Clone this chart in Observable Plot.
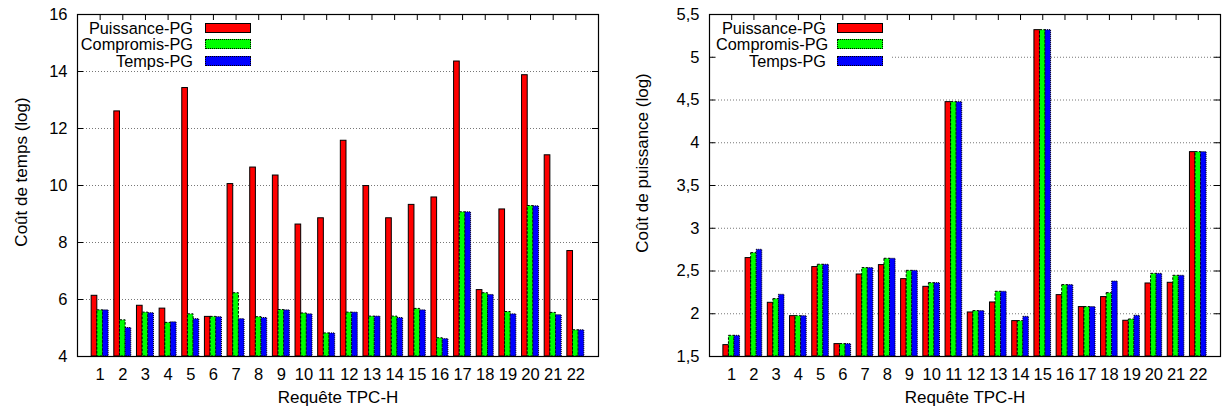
<!DOCTYPE html>
<html>
<head>
<meta charset="utf-8">
<script src="https://cdn.jsdelivr.net/npm/d3@7"></script>
<script src="https://cdn.jsdelivr.net/npm/@observablehq/plot@0.6"></script>
<style>
  html, body { margin: 0; padding: 0; background: #fff; }
  body { width: 1223px; height: 411px; overflow: hidden; font-family: "Liberation Sans", Arial, sans-serif; }
  #wrap { display: flex; flex-direction: row; }
  .panel { position: relative; }
  .legend { position: absolute; background: #fff; }
  .row { display: flex; align-items: center; height: 16.3px; }
  .row .lbl { text-align: right; font-size: 16.3px; line-height: 16px; color: #000; white-space: nowrap; }
  .row .sw { width: 44px; height: 8px; box-sizing: content-box; }
</style>
</head>
<body>
<div id="wrap"></div>
<script>
// ---------- data ----------
const queries = [1,2,3,4,5,6,7,8,9,10,11,12,13,14,15,16,17,18,19,20,21,22];
const seriesNames = ["Puissance-PG", "Compromis-PG", "Temps-PG"];

// Coût de temps (log)
const tempsPuissance = [6.13,12.6,5.78,5.68,13.42,5.39,10.05,10.63,10.35,8.63,8.85,11.57,9.98,8.85,9.32,9.58,14.35,6.33,9.16,13.87,11.06,7.70];
const tempsCompromis = [5.62,5.27,5.54,5.18,5.48,5.39,6.22,5.38,5.63,5.51,4.81,5.54,5.40,5.40,5.67,4.64,9.06,6.22,5.56,9.28,5.53,4.92];
const tempsTemps     = [5.62,5.00,5.52,5.20,5.31,5.38,5.31,5.35,5.62,5.48,4.81,5.54,5.40,5.35,5.62,4.61,9.06,6.16,5.48,9.27,5.45,4.92];

// Coût de puissance (log)
const puisPuissance = [1.633,2.651,2.128,1.972,2.546,1.645,2.459,2.569,2.405,2.315,4.475,2.015,2.132,1.914,5.317,2.218,2.078,2.195,1.918,2.354,2.362,3.890];
const puisCompromis = [1.742,2.709,2.171,1.972,2.573,1.645,2.534,2.643,2.502,2.358,4.475,2.031,2.257,1.914,5.317,2.335,2.078,2.241,1.933,2.467,2.444,3.890];
const puisTemps     = [1.742,2.748,2.222,1.972,2.573,1.645,2.534,2.643,2.502,2.358,4.475,2.031,2.257,1.964,5.317,2.335,2.078,2.377,1.976,2.467,2.444,3.890];

const yTicksTemps = [4,6,8,10,12,14,16];
const yTicksPuis = [1.5,2,2.5,3,3.5,4,4.5,5,5.5];

// ---------- styles ----------
const fills = ["#ff0000", "#00ff00", "#0000ff"];
const dashes = [null, "2.5,1.5", "1,1"];
const FONT = "Liberation Sans, Arial, sans-serif";
const TICK_FS = 16.5, LABEL_FS = 17;

function table(arrs) {
  const rows = [];
  arrs.forEach((arr, s) => {
    arr.forEach((v, i) => rows.push({q: queries[i], s, v}));
  });
  return rows;
}

function chart({width, marginLeft, marginRight, yTicks, fmt, rows, ylabel, ylabelDx, ylabelDy}) {
  const height = 411, marginTop = 14, marginBottom = 55;
  const fw = width - marginLeft - marginRight;
  const fh = height - marginTop - marginBottom;
  const y0 = yTicks[0], y1 = yTicks[yTicks.length - 1];
  const bw = 0.25;
  const barMarks = [0,1,2].map(s => Plot.rect(rows.filter(d => d.s === s), {
    x1: d => d.q - 1.5 * bw + s * bw,
    x2: d => d.q - 0.5 * bw + s * bw,
    y1: y0,
    y2: "v",
    fill: fills[s],
    stroke: "#000",
    strokeWidth: 1,
    strokeDasharray: dashes[s]
  }));
  return Plot.plot({
    width, height, marginLeft, marginRight, marginTop, marginBottom,
    style: {fontFamily: FONT, fontSize: TICK_FS + "px", background: "#fff", color: "#000"},
    x: {domain: [0, 23]},
    y: {domain: [y0, y1]},
    marks: [
      Plot.gridY(yTicks.slice(1, -1), {stroke: "#777", strokeOpacity: 1, strokeDasharray: "1,2"}),
      ...barMarks,
      Plot.axisX(queries, {anchor: "bottom", tickSize: 0, tickPadding: 12, label: null, fontSize: TICK_FS}),
      Plot.axisY(yTicks, {anchor: "left", tickSize: 0, tickPadding: 10, tickFormat: fmt, label: null, fontSize: TICK_FS}),
      // inward tick marks on all four sides
      Plot.ruleX(queries, {x: d => d, insetBottom: fh - 6, stroke: "#000"}),
      Plot.ruleY(yTicks.slice(1, -1), {y: d => d, insetRight: fw - 6, stroke: "#000"}),
      Plot.ruleY(yTicks.slice(1, -1), {y: d => d, insetLeft: fw - 6, stroke: "#000"}),
      Plot.frame({stroke: "#000", strokeWidth: 1.2}),
      Plot.text(["Requête TPC-H"], {frameAnchor: "bottom", lineAnchor: "middle", dy: 41, fontSize: LABEL_FS, fill: "#000"}),
      Plot.text([ylabel], {frameAnchor: "left", textAnchor: "middle", lineAnchor: "middle", rotate: -90, dx: ylabelDx, dy: ylabelDy, fontSize: LABEL_FS, fill: "#000"})
    ]
  });
}

function legend(panel, {left, top, textWidth, gap, bgWidth}) {
  const lg = document.createElement("div");
  lg.className = "legend";
  lg.style.left = left + "px";
  lg.style.top = top + "px";
  lg.style.width = bgWidth + "px";
  seriesNames.forEach((name, s) => {
    const row = document.createElement("div");
    row.className = "row";
    const lbl = document.createElement("span");
    lbl.className = "lbl";
    lbl.style.width = textWidth + "px";
    lbl.textContent = name;
    const sw = document.createElement("span");
    sw.className = "sw";
    sw.style.marginLeft = gap + "px";
    sw.style.background = fills[s];
    sw.style.border = "1px " + (s === 0 ? "solid" : "dotted") + " #000";
    row.appendChild(lbl);
    row.appendChild(sw);
    lg.appendChild(row);
  });
  panel.appendChild(lg);
}

const wrap = document.getElementById("wrap");
const commaFmt = d => String(d).replace(".", ",");

const p1 = document.createElement("div");
p1.className = "panel";
p1.appendChild(chart({
  width: 611, marginLeft: 77, marginRight: 13,
  yTicks: yTicksTemps, fmt: d => String(d),
  rows: table([tempsPuissance, tempsCompromis, tempsTemps]),
  ylabel: "Coût de temps (log)", ylabelDx: -56, ylabelDy: -13.5
}));
wrap.appendChild(p1);
legend(p1, {left: 79, top: 20, textWidth: 114, gap: 12, bgWidth: 176});

const p2 = document.createElement("div");
p2.className = "panel";
p2.appendChild(chart({
  width: 612, marginLeft: 98, marginRight: 3,
  yTicks: yTicksPuis, fmt: commaFmt,
  rows: table([puisPuissance, puisCompromis, puisTemps]),
  ylabel: "Coût de puissance (log)", ylabelDx: -67, ylabelDy: -22.5
}));
wrap.appendChild(p2);
legend(p2, {left: 105, top: 20, textWidth: 110, gap: 11, bgWidth: 176});
</script>
</body>
</html>
